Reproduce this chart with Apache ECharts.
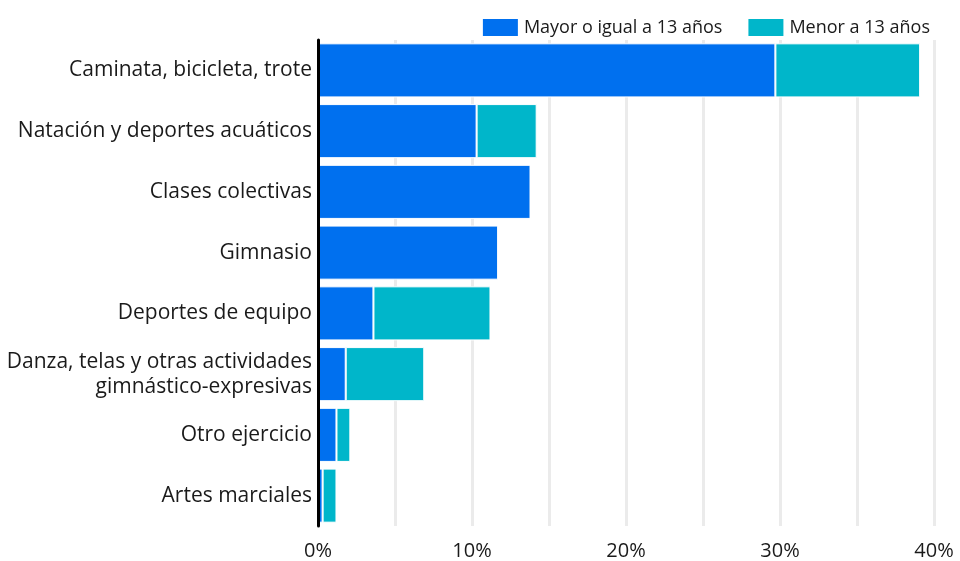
<!DOCTYPE html>
<html>
<head>
<meta charset="utf-8">
<script src="https://cdn.jsdelivr.net/npm/echarts@6/dist/echarts.min.js"></script>
<style>
html, body { margin: 0; padding: 0; background: #fff; }
#main { width: 960px; height: 561px; }
</style>
</head>
<body>
<div id="main"></div>
<script>
// categorías (de arriba hacia abajo)
var categories = [
	'Caminata, bicicleta, trote',
	'Natación y deportes acuáticos',
	'Clases colectivas',
	'Gimnasio',
	'Deportes de equipo',
	'Danza, telas y otras actividades\ngimnástico-expresivas',
	'Otro ejercicio',
	'Artes marciales'
];
// porcentajes
var mayor13 = [29.7, 10.3, 13.8, 11.7, 3.6, 1.8, 1.2, 0.3];
var menor13 = [9.4, 3.9, 0, 0, 7.6, 5.1, 0.9, 0.9];
var xTicks = [0, 10, 20, 30, 40];

var myChart = echarts.init(document.getElementById('main'));

myChart.setOption({
	backgroundColor: '#fff',
	textStyle: { fontFamily: 'Open Sans' },
	legend: {
		right: 25,
		top: 12,
		itemWidth: 37,
		itemHeight: 19,
		itemGap: 24,
		icon: 'rect',
		textStyle: { fontSize: 18, color: '#1a1a1a', fontFamily: 'Open Sans' },
		data: ['Mayor o igual a 13 años', 'Menor a 13 años']
	},
	grid: { left: 318, right: 26, top: 40, bottom: 34, containLabel: false },
	xAxis: {
		type: 'value',
		min: 0,
		max: 40,
		interval: 5,
		axisLine: { show: false },
		axisTick: { show: false },
		splitLine: { lineStyle: { color: '#ebebeb', width: 3 } },
		axisLabel: {
			fontSize: 20,
			color: '#1a1a1a',
			margin: 15,
			formatter: function (v) {
				return xTicks.indexOf(v) >= 0 ? v + '%' : '';
			}
		}
	},
	yAxis: {
		type: 'category',
		inverse: true,
		data: categories,
		z: 10,
		axisLine: { lineStyle: { color: '#000', width: 3 } },
		axisTick: { show: false },
		axisLabel: { fontSize: 21, color: '#1a1a1a', margin: 6, lineHeight: 25 }
	},
	series: [
		{
			name: 'Mayor o igual a 13 años',
			type: 'bar',
			stack: 'total',
			barCategoryGap: '11%',
			itemStyle: { color: '#0070ef', borderColor: '#fff', borderWidth: 1 },
			data: mayor13
		},
		{
			name: 'Menor a 13 años',
			type: 'bar',
			stack: 'total',
			barCategoryGap: '11%',
			itemStyle: { color: '#00b6ca', borderColor: '#fff', borderWidth: 1 },
			data: menor13
		}
	]
});
</script>
</body>
</html>
